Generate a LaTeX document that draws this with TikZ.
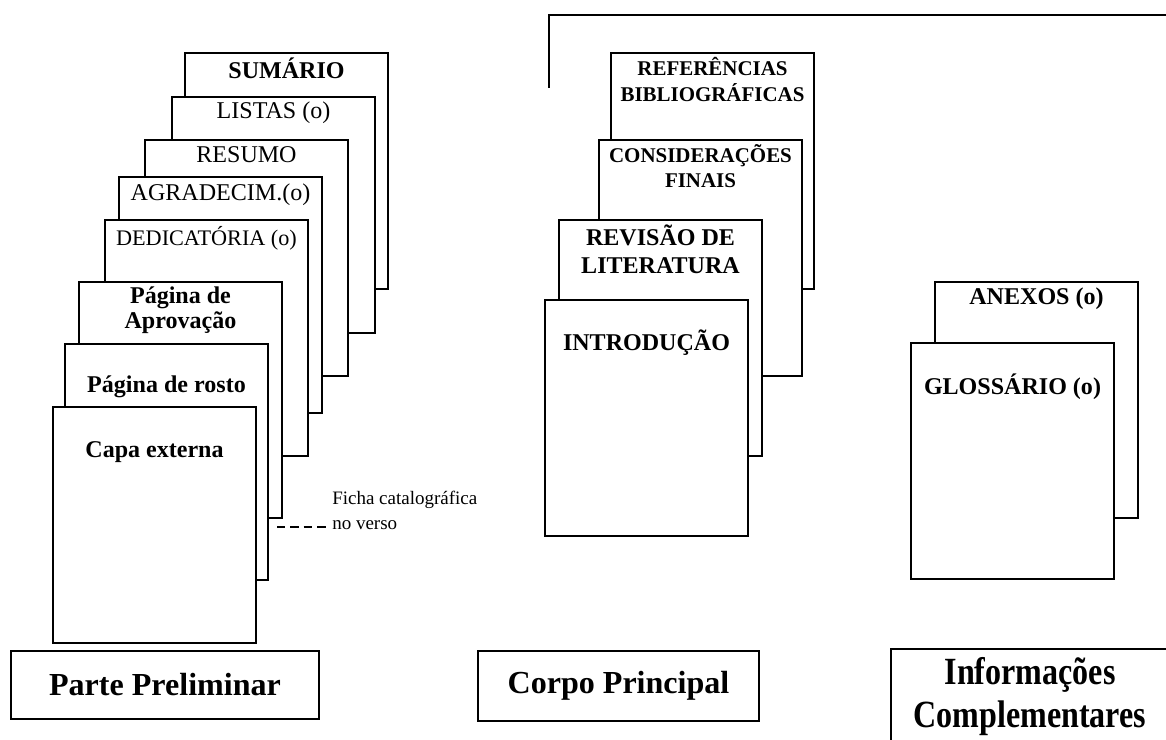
\documentclass[tikz,border=0pt]{standalone}
\usepackage{fontspec}
\usepackage{graphicx}
\setmainfont{Liberation Serif}
\usetikzlibrary{calc}

\begin{document}
\begin{tikzpicture}
	[x=0.025cm,y=-0.025cm,
	pagina/.style={rectangle,draw,fill=white,line width=1.4pt,minimum width=5.075cm,minimum height=5.9cm,anchor=north west,inner sep=0pt},
	fino/.style={align=center,inner sep=0pt,font=\fontsize{17.1}{17.8}\selectfont},
	apertado/.style={align=center,inner sep=0pt,font=\fontsize{15.8}{17.8}\selectfont},
	negrito/.style={align=center,inner sep=0pt,font=\bfseries\fontsize{17.1}{17.8}\selectfont},
	largo/.style={align=center,inner sep=0pt,font=\bfseries\fontsize{17.1}{19.8}\selectfont},
	menor/.style={align=center,inner sep=0pt,font=\bfseries\fontsize{14.9}{17.8}\selectfont},
	ficha/.style={anchor=base west,inner sep=0pt,font=\fontsize{13.5}{16}\selectfont},
	parte/.style={rectangle,draw,line width=1.4pt,align=center,font=\bfseries\fontsize{22.8}{25.6}\selectfont},]
	\useasboundingbox (0,0) rectangle (1166,740);
	\clip (0,0) rectangle (1166,740);
	\foreach \x/\y/\estilo/\rot/\dy [count=\i] in {184/52/negrito/SUMÁRIO/16,171/96/fino/LISTAS (o)/17,144/139/fino/RESUMO/16,118/176/fino/AGRADECIM.(o)/19,104/219/apertado/DEDICATÓRIA (o)/19,78/281/negrito/Página de\\Aprovação/29.5,64/343/negrito/Página de rosto/44,52/406/negrito/Capa externa/46}
	{
		\node[pagina] (pre\i) at (\x,\y) {};
		\node[\estilo] at ($(pre\i.north)+(0,\dy)$) {\rot};
	}
	\foreach \x/\y/\estilo/\rot/\dy [count=\i] in {610/52/menor/REFERÊNCIAS\\BIBLIOGRÁFICAS/27.5,598/139/menor/CONSIDERAÇÕES\\FINAIS/27.5,558/219/largo/REVISÃO DE\\LITERATURA/30,544/299/negrito/INTRODUÇÃO/44}
	{
		\node[pagina] (corpo\i) at (\x,\y) {};
		\node[\estilo] at ($(corpo\i.north)+(0,\dy)$) {\rot};
	}
	\foreach \x/\y/\estilo/\rot/\dy [count=\i] in {934/281/negrito/ANEXOS (o)/18,910/342/negrito/GLOSSÁRIO (o)/45}
	{
		\node[pagina] (comp\i) at (\x,\y) {};
		\node[\estilo] at ($(comp\i.north)+(0,\dy)$) {\rot};
	}
	\node[ficha] (fichaA) at (332,505) {Ficha catalográfica};
	\node[ficha] (fichaB) at (332,530) {no verso};
	\coordinate (tracejado) at (277,527);
	\draw[line width=0.8pt,dash pattern=on 6pt off 3.5pt,shorten >=3pt] (tracejado) -- (tracejado -| fichaB.west);
	\draw[line width=1.4pt] (549,88) -- (549,15) -- (1180,15);
	\node[parte,minimum width=7.7cm,minimum height=1.7cm] (preliminar) at (165,685) {Parte Preliminar};
	\node[parte,minimum width=7.025cm,minimum height=1.75cm] (principal) at (618.5,686) {Corpo Principal};
	\node[parte,minimum width=6.95cm,minimum height=2.3cm] (complementar) at (1030,697) {\scalebox{1}[1.2]{\begin{tabular}{@{}c@{}}Informações\\Complementares\end{tabular}}};
\end{tikzpicture}
\end{document}
